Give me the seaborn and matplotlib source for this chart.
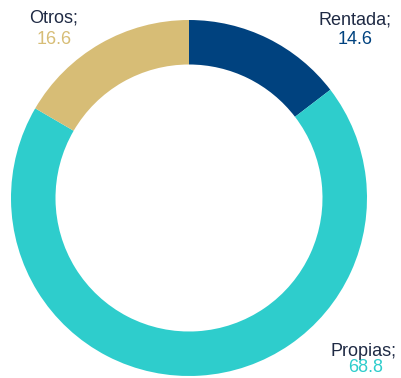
import matplotlib
matplotlib.use("Agg")
import matplotlib.pyplot as plt
import seaborn as sns

categories = ["Rentada", "Propias", "Otros"]
values = [14.6, 68.8, 16.6]
colors = ["#00427f", "#2ecdcc", "#d7bd76"]

sns.set_theme(style="white")
plt.rcParams["font.family"] = ["Liberation Sans", "DejaVu Sans"]

W, H = 402, 378
fig = plt.figure(figsize=(W / 100, H / 100), dpi=100)
cx, cy, r = 189, 198, 178
ax = fig.add_axes([(cx - r) / W, 1 - (cy + r) / H, 2 * r / W, 2 * r / H])
ax.pie(values, colors=sns.color_palette(colors), startangle=90, counterclock=False,
       radius=1.0, wedgeprops=dict(width=0.25, linewidth=0))
ax.set_xlim(-1, 1)
ax.set_ylim(-1, 1)
ax.set_aspect("equal")
ax.axis("off")

label_color = "#1f2a44"
label_pos = {
    "Rentada": ((355, 20), (355, 40)),
    "Propias": ((364, 351), (366, 368)),
    "Otros": ((54, 18), (54, 40)),
}
for cat, val, col in zip(categories, values, colors):
    (x1, y1), (x2, y2) = label_pos[cat]
    fig.text(x1 / W, 1 - y1 / H, f"{cat};", ha="center", va="center",
             fontsize=13, color=label_color)
    fig.text(x2 / W, 1 - y2 / H, f"{val:.1f}", ha="center", va="center",
             fontsize=13, color=col)

fig.savefig("out.png", dpi=100)
